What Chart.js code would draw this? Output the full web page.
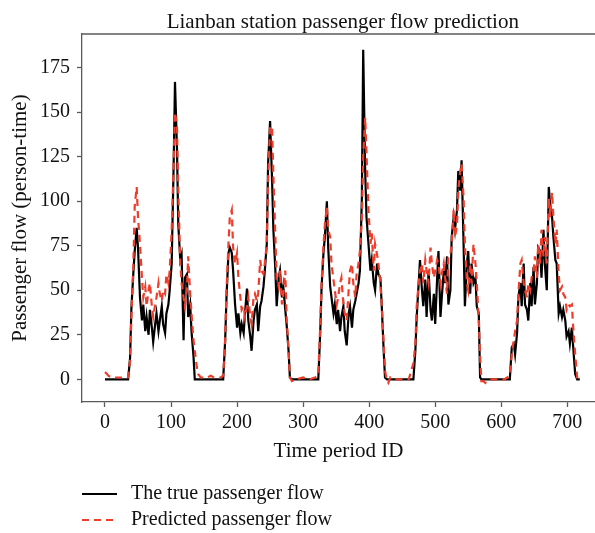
<!DOCTYPE html>
<html>
<head>
<meta charset="utf-8">
<script src="https://cdn.jsdelivr.net/npm/chart.js@4/dist/chart.umd.min.js"></script>
<style>
    html, body { margin: 0; padding: 0; background: #fff; overflow: hidden; }
    #wrap { width: 595px; height: 533px; }
</style>
</head>
<body>
<div id="wrap"><canvas id="flowChart" width="595" height="533"></canvas></div>
<script>
// values
const timeIds = [
    0, 3, 5, 10, 15, 20, 25, 30, 35, 38, 40, 43, 45, 48, 50, 53, 56, 58, 61, 63,
    66, 68, 71, 73, 76, 78, 81, 83, 86, 88, 91, 93, 96, 98, 101, 104, 106, 109, 111, 114,
    116, 119, 121, 124, 126, 129, 131, 134, 136, 139, 141, 145, 150, 155, 160, 165, 170, 175, 179, 182,
    184, 187, 189, 192, 194, 197, 200, 202, 205, 207, 210, 212, 215, 217, 220, 222, 225, 227, 230, 232,
    235, 237, 240, 242, 245, 247, 250, 253, 255, 258, 260, 263, 265, 268, 270, 273, 275, 278, 280, 283,
    290, 300, 310, 318, 323, 326, 328, 331, 333, 336, 338, 341, 343, 346, 348, 351, 353, 356, 358, 361,
    363, 366, 369, 371, 374, 376, 379, 381, 384, 386, 389, 391, 394, 396, 399, 402, 404, 407, 409, 412,
    414, 417, 419, 422, 424, 427, 429, 432, 440, 450, 460, 467, 470, 472, 475, 477, 480, 482, 485, 487,
    490, 493, 495, 498, 500, 503, 505, 508, 510, 513, 515, 518, 520, 523, 525, 528, 530, 533, 535, 538,
    540, 543, 545, 548, 550, 553, 555, 558, 561, 563, 566, 568, 570, 573, 576, 578, 585, 595, 605, 613,
    616, 619, 621, 624, 626, 629, 631, 634, 636, 639, 641, 644, 646, 649, 651, 654, 656, 659, 661, 664,
    666, 669, 672, 674, 677, 679, 682, 684, 687, 689, 692, 694, 697, 699, 702, 704, 707, 709, 712, 715,
    717, 719
];
const trueFlow = [
    0, 0, 0, 0, 0, 0, 0, 0, 0, 12, 40, 60, 72, 85, 74, 46, 33, 42, 27, 35,
    25, 39, 29, 21, 31, 37, 27, 33, 41, 31, 26, 37, 42, 50, 65, 121, 167, 130, 87, 67,
    70, 22, 57, 59, 35, 42, 27, 13, 0, 0, 0, 0, 0, 0, 0, 0, 0, 0, 0, 22,
    46, 71, 74, 71, 61, 42, 29, 37, 26, 31, 26, 37, 51, 33, 24, 16, 33, 39, 42, 27,
    41, 44, 52, 61, 76, 121, 145, 112, 84, 61, 41, 57, 61, 46, 52, 39, 31, 16, 1, 0,
    0, 0, 0, 0, 0, 27, 52, 72, 80, 100, 74, 52, 46, 37, 42, 31, 39, 27, 35, 41,
    27, 19, 37, 41, 29, 39, 44, 48, 54, 61, 102, 185, 117, 91, 76, 61, 67, 54, 50, 65,
    59, 57, 42, 16, 1, 0, 0, 0, 0, 0, 0, 0, 16, 35, 54, 67, 50, 41, 56, 35,
    61, 39, 33, 48, 31, 57, 72, 35, 46, 61, 54, 69, 42, 50, 80, 91, 84, 95, 117, 106,
    123, 76, 41, 65, 72, 48, 65, 54, 57, 41, 37, 1, 0, 0, 0, 0, 0, 0, 0, 0,
    18, 20, 14, 26, 46, 54, 41, 65, 42, 39, 33, 54, 41, 63, 42, 54, 74, 72, 57, 84,
    65, 50, 108, 99, 91, 80, 67, 65, 37, 41, 35, 39, 33, 24, 27, 20, 29, 18, 3, 0,
    0, 0
];
const predictedFlow = [
    4, 3, 2, 1, 1, 1, 1, 1, 1, 10, 35, 65, 97, 108, 91, 76, 57, 46, 52, 41,
    50, 54, 41, 35, 42, 46, 54, 48, 44, 50, 48, 59, 54, 61, 84, 121, 150, 142, 106, 65,
    54, 46, 41, 50, 69, 48, 37, 22, 16, 7, 3, 1, 1, 1, 2, 1, 1, 1, 2, 22,
    50, 76, 91, 95, 74, 65, 71, 57, 46, 39, 41, 35, 41, 46, 35, 31, 46, 48, 44, 48,
    67, 61, 59, 65, 76, 112, 142, 142, 114, 80, 56, 52, 61, 42, 48, 61, 35, 16, 1, -1,
    0, 1, 0, 1, 2, 31, 54, 76, 87, 97, 84, 80, 65, 56, 50, 42, 46, 54, 57, 42,
    37, 33, 50, 61, 65, 54, 46, 59, 65, 72, 91, 125, 147, 127, 95, 76, 82, 61, 76, 70,
    65, 54, 42, 20, 5, -1, -2, 1, 0, 0, 0, 9, 20, 41, 54, 61, 65, 54, 67, 61,
    54, 74, 65, 57, 61, 67, 65, 54, 59, 65, 57, 48, 69, 70, 76, 95, 80, 86, 106, 117,
    121, 102, 76, 54, 50, 65, 54, 76, 65, 54, 33, 13, -1, -1, -2, -1, 0, 0, 0, 2,
    14, 22, 27, 33, 48, 65, 67, 54, 50, 46, 54, 50, 57, 61, 69, 57, 76, 65, 84, 69,
    80, 65, 102, 91, 105, 91, 76, 84, 59, 50, 52, 48, 46, 39, 42, 41, 42, 29, 14, 1,
    -1, 0
];
const seriesNames = ['The true passenger flow', 'Predicted passenger flow'];
const chartTitle = 'Lianban station passenger flow prediction';
const xTickValues = [0, 100, 200, 300, 400, 500, 600, 700];
const yTickValues = [0, 25, 50, 75, 100, 125, 150, 175];

const FONT = "'Liberation Serif', 'Times New Roman', serif";
const SPINE = '#5a5a5a';

function toPoints(values) {
    return timeIds.map((t, i) => ({ x: t, y: values[i] }));
}

// matplotlib-style frame: top spine only (right side is cut off in the picture)
// plus the title, centred over the full (cropped) axes box
const frameAndTitle = {
    id: 'frameAndTitle',
    afterDraw(chart) {
        const { ctx, chartArea } = chart;
        ctx.save();
        ctx.strokeStyle = SPINE;
        ctx.lineWidth = 1.3;
        ctx.beginPath();
        ctx.moveTo(chartArea.left, chartArea.top);
        ctx.lineTo(chart.width, chartArea.top);
        ctx.stroke();

        const xs = chart.scales.x;
        const axesRight = xs.getPixelForValue(755);
        ctx.font = '21px ' + FONT;
        ctx.fillStyle = '#111';
        ctx.textAlign = 'center';
        ctx.textBaseline = 'alphabetic';
        ctx.fillText(chartTitle, (chartArea.left + axesRight) / 2, chartArea.top - 6);
        ctx.restore();
    }
};

// legend stacked under the axes, left aligned
const stackedLegend = {
    id: 'stackedLegend',
    afterDraw(chart) {
        const ctx = chart.ctx;
        const x0 = chart.chartArea.left;
        ctx.save();
        ctx.font = '20px ' + FONT;
        ctx.textBaseline = 'middle';
        ctx.fillStyle = '#111';
        chart.data.datasets.forEach((ds, i) => {
            const y = chart.chartArea.bottom + 92 + i * 26;
            ctx.strokeStyle = ds.borderColor;
            ctx.lineWidth = ds.borderWidth;
            ctx.setLineDash(ds.borderDash || []);
            ctx.beginPath();
            ctx.moveTo(x0, y);
            ctx.lineTo(x0 + 35, y);
            ctx.stroke();
            ctx.setLineDash([]);
            ctx.fillText(ds.label, x0 + 49, y - 0.5);
        });
        ctx.restore();
    }
};

new Chart(document.getElementById('flowChart').getContext('2d'), {
    type: 'line',
    data: {
        datasets: [
            {
                label: seriesNames[0],
                data: toPoints(trueFlow),
                borderColor: '#000000',
                borderWidth: 2.2,
                pointRadius: 0,
                tension: 0,
                order: 2
            },
            {
                label: seriesNames[1],
                data: toPoints(predictedFlow),
                borderColor: '#ef3d2b',
                borderWidth: 2.2,
                borderDash: [7, 5],
                pointRadius: 0,
                tension: 0,
                order: 1
            }
        ]
    },
    options: {
        responsive: false,
        animation: false,
        layout: { padding: { left: 0, right: 0, top: 34, bottom: 69 } },
        plugins: {
            legend: { display: false },
            tooltip: { enabled: false },
            title: { display: false }
        },
        scales: {
            x: {
                type: 'linear',
                min: -34.8,
                max: 742,
                afterBuildTicks: scale => { scale.ticks = xTickValues.map(v => ({ value: v })); },
                afterFit: scale => { scale.height = 62; },
                grid: { drawOnChartArea: false, tickLength: 5, tickColor: SPINE, tickWidth: 1.3 },
                border: { color: SPINE, width: 1.3 },
                ticks: { color: '#111', padding: 4, maxRotation: 0, font: { family: FONT, size: 20 } },
                title: {
                    display: true,
                    text: 'Time period ID',
                    color: '#111',
                    font: { family: FONT, size: 21 },
                    padding: { top: 0, bottom: 0 }
                }
            },
            y: {
                type: 'linear',
                min: -12.76,
                max: 193.9,
                afterBuildTicks: scale => { scale.ticks = yTickValues.map(v => ({ value: v })); },
                afterFit: scale => { scale.width = 82; },
                grid: { drawOnChartArea: false, tickLength: 5, tickColor: SPINE, tickWidth: 1.3 },
                border: { color: SPINE, width: 1.3 },
                ticks: { color: '#111', padding: 7, font: { family: FONT, size: 20 } },
                title: {
                    display: true,
                    text: 'Passenger flow (person-time)',
                    color: '#111',
                    font: { family: FONT, size: 21 },
                    padding: { top: 7.5, bottom: 0 }
                }
            }
        }
    },
    plugins: [frameAndTitle, stackedLegend]
});
</script>
</body>
</html>
